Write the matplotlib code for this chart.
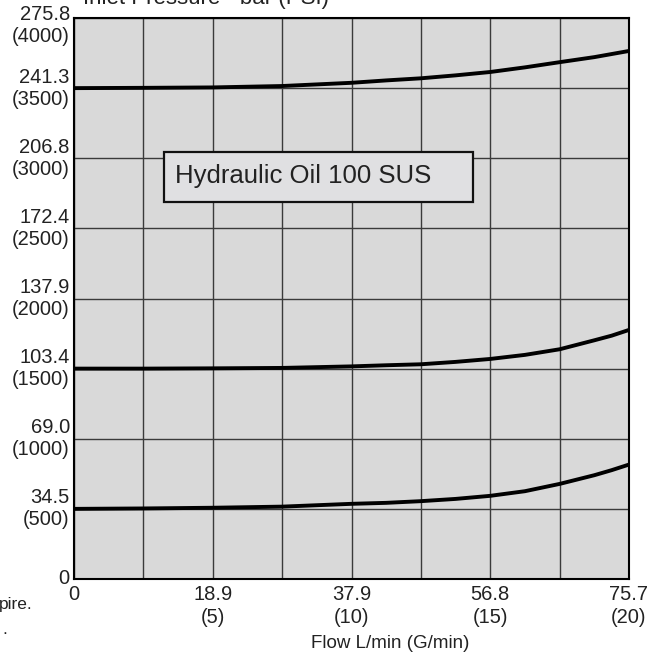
import numpy as np
import matplotlib
matplotlib.use("Agg")
import matplotlib.pyplot as plt
from matplotlib.patches import Rectangle
from matplotlib.transforms import ScaledTranslation

plt.rcParams['font.family'] = ['Liberation Sans', 'DejaVu Sans']

# flow in G/min, pressure in PSI
flow = [0, 2.5, 5, 7.5, 10, 11.25, 12.5, 13.75, 15, 16.25, 17.5, 18.75, 19.375, 20]
p_high = [3500, 3502, 3505, 3515, 3538, 3555, 3570, 3591, 3615, 3648, 3685, 3721, 3743, 3765]
p_mid = [1500, 1500, 1502, 1505, 1516, 1524, 1531, 1548, 1569, 1598, 1638, 1702, 1735, 1776]
p_low = [500, 503, 508, 516, 536, 543, 555, 571, 593, 626, 678, 740, 776, 816]

x_ticks = [0, 2.5, 5, 7.5, 10, 12.5, 15, 17.5, 20]
x_labels = ["0", "", "18.9\n(5)", "", "37.9\n(10)", "", "56.8\n(15)", "", "75.7\n(20)"]
y_ticks = [0, 500, 1000, 1500, 2000, 2500, 3000, 3500, 4000]
y_labels = ["0", "34.5\n(500)", "69.0\n(1000)", "103.4\n(1500)", "137.9\n(2000)",
            "172.4\n(2500)", "206.8\n(3000)", "241.3\n(3500)", "275.8\n(4000)"]

fig = plt.figure(figsize=(6.58, 6.56), dpi=100)
ax = fig.add_axes([74 / 658, 77 / 656, 555 / 658, 561 / 656])
ax.set_facecolor("#d9d9d9")

for p in (p_high, p_mid, p_low):
    ax.plot(flow, p, color="black", lw=2.8, solid_capstyle="butt", zorder=3)

ax.set_xlim(0, 20)
ax.set_ylim(0, 4000)
ax.set_xticks(x_ticks)
ax.set_xticklabels(x_labels, linespacing=1.28)
ax.set_yticks(y_ticks)
ax.set_yticklabels(y_labels, ha="right", va="center", linespacing=1.2)
ax.tick_params(length=0, labelsize=14.5, labelcolor="#222222")
ax.tick_params(axis="y", pad=3)
ax.tick_params(axis="x", pad=4)
ax.grid(True, color="#3a3a3a", lw=1.0)
for s in ax.spines.values():
    s.set_color("black")
    s.set_linewidth(1.5)
    s.set_zorder(4)

# top label sits a bit below its line so it stays inside the figure
top_lbl = ax.get_yticklabels()[-1]
top_lbl.set_transform(top_lbl.get_transform()
                      + ScaledTranslation(0, -5.5 / 72, fig.dpi_scale_trans))

# note box
ax.add_patch(Rectangle((0.162, 0.672), 0.557, 0.089, transform=ax.transAxes,
                       facecolor="#e0e0e2", edgecolor="#111111", lw=1.6, zorder=5))
ax.text(0.182, 0.718, "Hydraulic Oil 100 SUS", transform=ax.transAxes,
        fontsize=18.5, color="#222222", va="center", ha="left", zorder=6)

fig.text(83 / 658, 1 - 4 / 656, "Inlet Pressure - bar (PSI)", fontsize=16,
         color="#222222", ha="left", va="baseline")
fig.text(390 / 658, 1 - 643 / 656, "Flow L/min (G/min)", fontsize=13.5,
         color="#222222", ha="center", va="center")
fig.text(33 / 658, 1 - 605 / 656, "pire.", fontsize=12.5, color="#222222",
         ha="right", va="center")
fig.text(7 / 658, 1 - 629 / 656, ".", fontsize=12.5, color="#222222",
         ha="right", va="center")

fig.savefig("out.png", dpi=100)
